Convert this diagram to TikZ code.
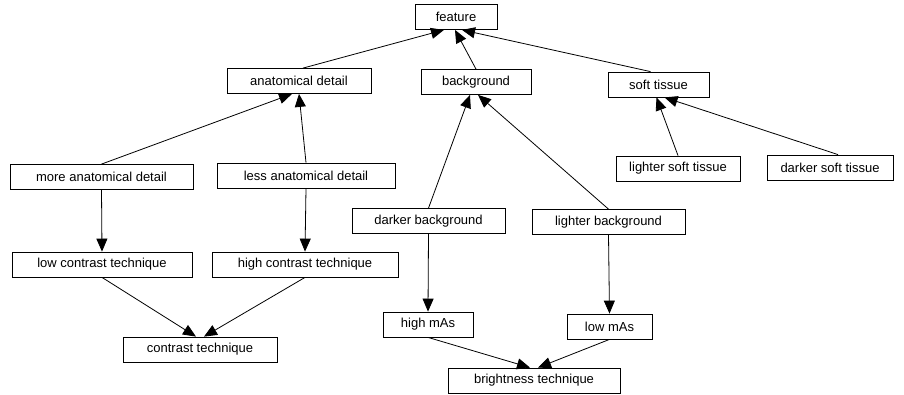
\documentclass[tikz,border=0pt]{standalone}
\usepackage{fontspec}
\setmainfont{Liberation Sans}
\usetikzlibrary{arrows.meta}

\begin{document}
\begin{tikzpicture}[x=1pt, y=-1pt, line width=0.8pt,
    main/.style = {draw, rectangle, minimum height=25pt, inner sep=2pt, font=\fontsize{13}{15}\selectfont},
    >={Triangle[length=13pt,width=11pt]}]
            \useasboundingbox (0,0) rectangle (904,394);
            \node[main, minimum width=82pt] (feat) at (456,17) {feature};
            \node[main, minimum width=144pt] (anat) at (299,81) {anatomical detail};
            \node[main, minimum width=110pt] (bg) at (476,82) {background};
            \node[main, minimum width=101pt] (soft) at (658.5,84.5) {soft tissue};
            \node[main, minimum width=183pt] (moreanat) at (101.5,177) {more anatomical detail};
            \node[main, minimum width=178pt] (lessanat) at (306,175.5) {less anatomical detail};
            \node[main, minimum width=124pt] (lsoft) at (678,168.5) {lighter soft tissue};
            \node[main, minimum width=126pt] (dsoft) at (830,167.5) {darker soft tissue};
            \node[main, minimum width=153pt] (dbg) at (428.5,221) {darker background};
            \node[main, minimum width=153pt] (lbg) at (608.5,222) {lighter background};
            \node[main, minimum width=180pt] (lowc) at (102,264.5) {low contrast technique};
            \node[main, minimum width=186pt] (highc) at (305,264.5) {high contrast technique};
            \node[main, minimum width=90pt] (highm) at (428,324.5) {high mAs};
            \node[main, minimum width=85pt] (lowm) at (609.5,326.5) {low mAs};
            \node[main, minimum width=172pt] (bright) at (534,380.5) {brightness technique};
            \node[main, minimum width=154pt] (contr) at (200,349.5) {contrast technique};
            \path[->]
            ([xshift=4pt]anat.north) edge ([xshift=-12pt]feat.south)
            (bg.north) edge ([xshift=-1pt]feat.south)
            ([xshift=-8pt]soft.north) edge ([xshift=6pt]feat.south)
            (moreanat.north) edge ([xshift=-7pt]anat.south)
            (lessanat.north) edge (anat.south)
            (dbg.north) edge ([xshift=-6pt]bg.south)
            (lbg.north) edge ([xshift=2pt]bg.south)
            (lsoft.north) edge ([xshift=-2pt]soft.south)
            ([xshift=8pt]dsoft.north) edge ([xshift=6pt]soft.south)
            (moreanat.south) edge (lowc.north)
            (lessanat.south) edge (highc.north)
            (dbg.south) edge (highm.north)
            (lbg.south) edge (lowm.north)
            (lowc.south) edge ([xshift=-4pt]contr.north)
            (highc.south) edge ([xshift=4pt]contr.north)
            (highm.south) edge ([xshift=-4pt]bright.north)
            (lowm.south) edge ([xshift=4pt]bright.north);
        \end{tikzpicture}
\end{document}
